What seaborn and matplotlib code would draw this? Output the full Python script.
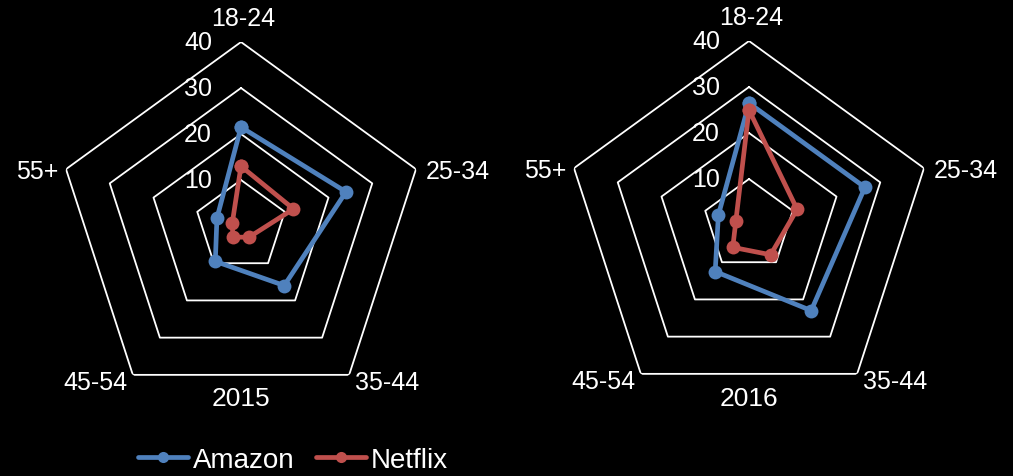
import numpy as np
import pandas as pd
import matplotlib
matplotlib.use("Agg")
import matplotlib.pyplot as plt
import seaborn as sns

# data
categories = ['18-24', '25-34', '35-44', '45-54', '55+']
levels = [10, 20, 30, 40]
years = ['2015', '2016']
amazon_2015 = [21.5, 24, 16, 9.5, 5.5]
netflix_2015 = [13, 12, 3, 3, 2]
amazon_2016 = [26.5, 26.5, 23, 12.5, 7]
netflix_2016 = [25, 11, 8, 6, 3]

series_colors = {'Amazon': '#4F81BD', 'Netflix': '#C0504D'}

sns.set_theme(style='dark')
plt.rcParams['font.family'] = ['Liberation Sans', 'DejaVu Sans']
plt.rcParams['text.color'] = 'white'

W, H = 1013, 477
FS = 18
fig = plt.figure(figsize=(W / 100, H / 100), dpi=100, facecolor='black')

n = len(categories)
theta = np.arange(n) * 2 * np.pi / n
theta_closed = np.append(theta, 2 * np.pi)

# pixel offsets of each category label from its outer vertex
label_offsets = [((2, 24), 'center'), ((10, -2), 'left'), ((6, -7), 'left'),
                 ((-5, -7), 'right'), ((-8, -2), 'right')]


def radar(ax, amazon, netflix):
    ax.set_facecolor('black')
    ax.set_theta_offset(np.pi / 2)
    ax.set_theta_direction(-1)
    ax.set_ylim(0, 40)
    ax.grid(False)
    ax.set_xticks([])
    ax.set_yticks([])
    ax.spines['polar'].set_visible(False)

    # pentagon grid
    for lv in levels:
        ax.plot(theta_closed, [lv] * (n + 1), color='white', lw=1.3, zorder=1)
        ax.annotate(str(lv), xy=(0, lv), xytext=(-29, 0), textcoords='offset pixels',
                    ha='right', va='center', fontsize=FS, color='white')

    df = pd.DataFrame({
        'theta': np.concatenate([theta_closed, theta_closed]),
        'value': list(amazon) + [amazon[0]] + list(netflix) + [netflix[0]],
        'service': ['Amazon'] * (n + 1) + ['Netflix'] * (n + 1),
    })
    sns.lineplot(data=df, x='theta', y='value', hue='service', palette=series_colors,
                 sort=False, estimator=None, marker='o', markersize=10,
                 markeredgewidth=0, linewidth=3.4, ax=ax, legend=True, zorder=3)
    ax.set_xlabel('')
    ax.set_ylabel('')

    for t, cat, (off, ha) in zip(theta, categories, label_offsets):
        ax.annotate(cat, xy=(t, 40), xytext=off, textcoords='offset pixels',
                    ha=ha, va='center', fontsize=FS, color='white', annotation_clip=False)

    handles, labels = ax.get_legend_handles_labels()
    ax.get_legend().remove()
    return handles, labels


centers = [(241, 227), (749, 226)]
rpx = 184
data = [(amazon_2015, netflix_2015), (amazon_2016, netflix_2016)]
for (cx, cy), (am, nf), year in zip(centers, data, years):
    ax = fig.add_axes([(cx - rpx) / W, (H - cy - rpx) / H, 2 * rpx / W, 2 * rpx / H],
                      projection='polar')
    handles, labels = radar(ax, am, nf)
    fig.text(cx / W, 1 - 399 / H, year, ha='center', va='center', fontsize=19, color='white')

for h in handles:
    h.set_markersize(8)
    h.set_linewidth(3.4)
leg = fig.legend(handles, labels, loc='center', bbox_to_anchor=(293 / W, 1 - 461 / H),
                 ncol=2, frameon=False, fontsize=20, handlelength=1.8,
                 columnspacing=0.8, handletextpad=0.15, borderpad=0)
for t in leg.get_texts():
    t.set_color('white')

fig.savefig('out.png', dpi=100, facecolor='black')
